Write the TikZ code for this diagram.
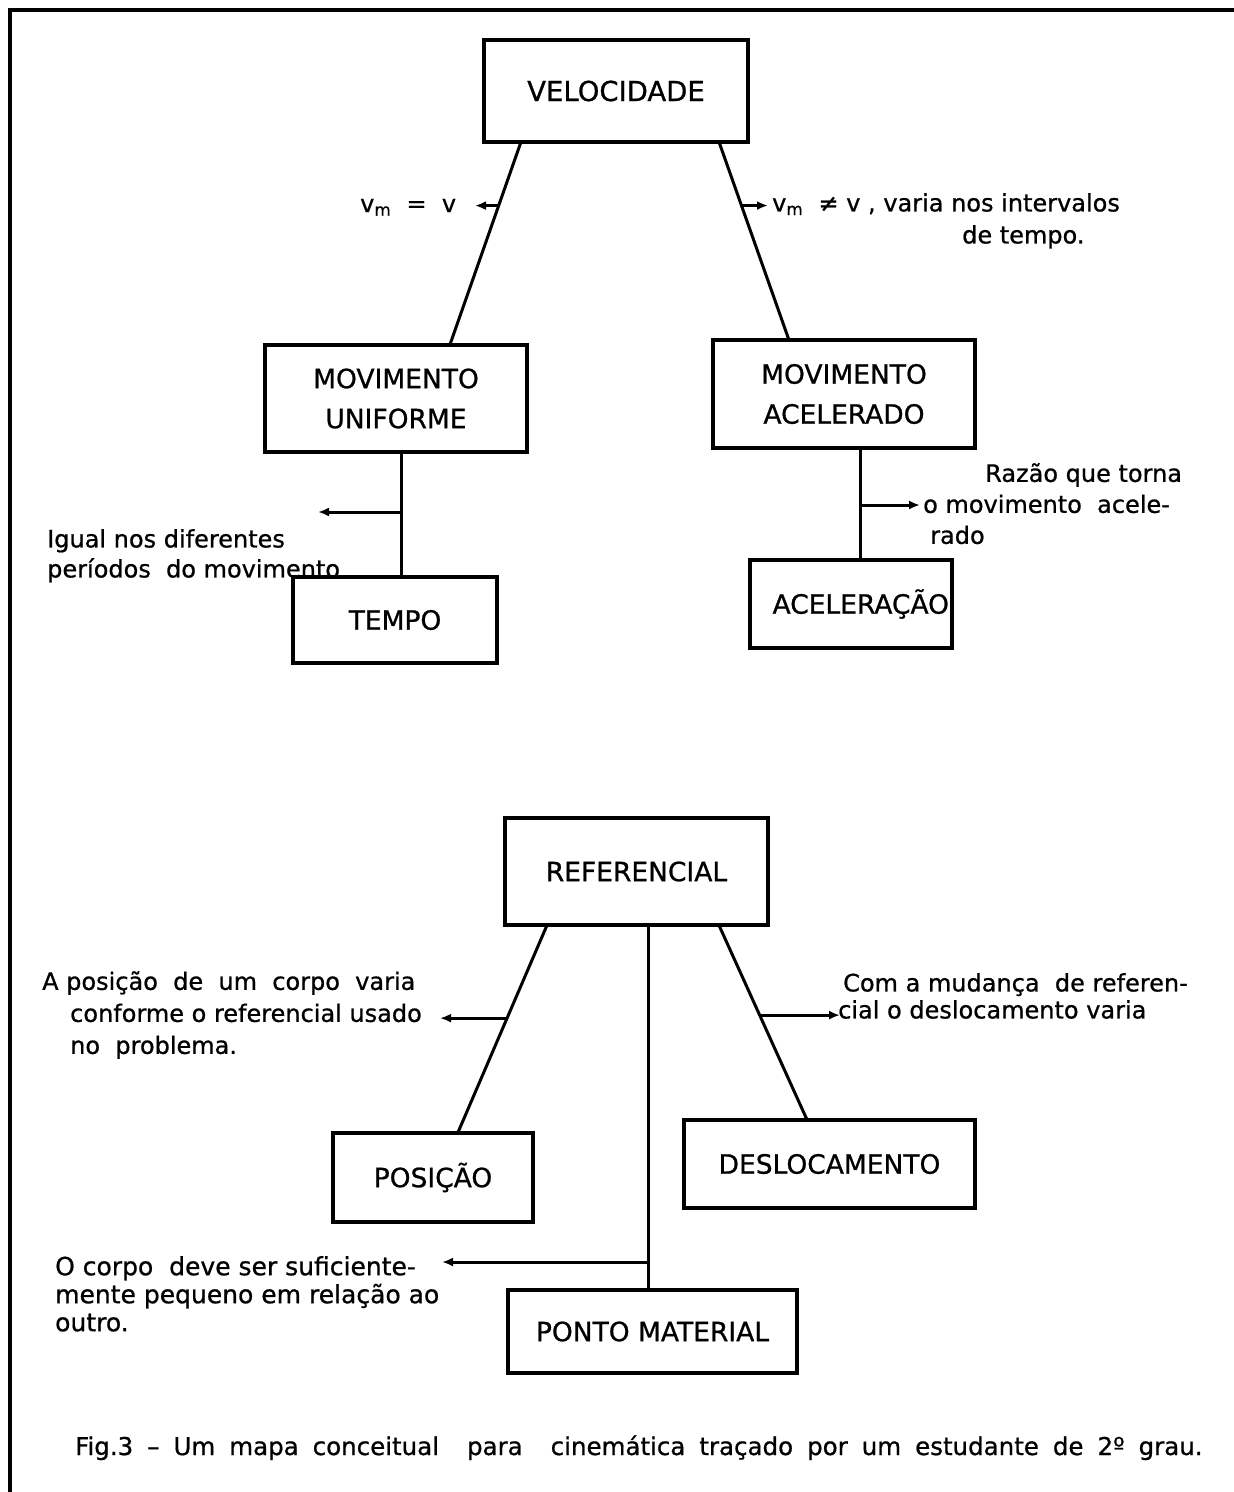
\documentclass[tikz,border=0pt]{standalone}
\usepackage{fontspec}
\setmainfont{DejaVu Sans}[FakeBold=0.8]
\usetikzlibrary{arrows.meta,calc}
\begin{document}
\begin{tikzpicture}[x=1pt,y=-1pt,
  cbox/.style={draw, line width=3.2pt, inner sep=0pt, align=center,
    font=\fontsize{26.5}{40}\selectfont},
  link/.style={line width=3pt},
  lbl/.style={line width=3pt, -{Latex[length=11pt,width=9pt]}},
  txt/.style={inner sep=0pt, align=left, anchor=north west,
    font=\fontsize{24}{30}\selectfont}]
\useasboundingbox (0,0) rectangle (1234,1492);
\draw[line width=3.5pt] (10,1492) -- (10,10) -- (1234,10);

% boxes
\node[cbox, minimum width=264, minimum height=102, font=\fontsize{27.5}{40}\selectfont] (vel) at (616,91) {VELOCIDADE};
\node[cbox, minimum width=262, minimum height=107] (mu) at (396,398.5) {MOVIMENTO\\UNIFORME};
\node[cbox, minimum width=262, minimum height=108] (ma) at (844,394) {MOVIMENTO\\ACELERADO};
\node[cbox, minimum width=204, minimum height=86] (tempo) at (395,620) {TEMPO};
\node[cbox, minimum width=202, minimum height=88, text width=196, align=right] (acel) at (851,604) {ACELERAÇÃO};
\node[cbox, minimum width=263, minimum height=107] (ref) at (636.5,871.5) {REFERENCIAL};
\node[cbox, minimum width=200, minimum height=89] (pos) at (433,1177.5) {POSIÇÃO};
\node[cbox, minimum width=291, minimum height=88] (desl) at (829.5,1164) {DESLOCAMENTO};
\node[cbox, minimum width=289, minimum height=83] (pm) at (652.5,1331.5) {PONTO MATERIAL};

% connectors
\draw[link] ([xshift=38]vel.south west) -- ([xshift=187]mu.north west) coordinate[pos=0.3103] (p1);
\draw[link] ([xshift=-30]vel.south east) -- ([xshift=77]ma.north west) coordinate[pos=0.318] (p2);
\draw[link] ([xshift=138]mu.south west) coordinate (m1) -- (m1 |- tempo.north);
\draw[link] ([xshift=149]ma.south west) coordinate (m2) -- (m2 |- acel.north);
\draw[link] ([xshift=43]ref.south west) -- ([xshift=127]pos.north west) coordinate[pos=0.447] (p3);
\draw[link] ([xshift=145]ref.south west) coordinate (m3) -- (m3 |- pm.north);
\draw[link] ([xshift=-50]ref.south east) -- ([xshift=124]desl.north west) coordinate[pos=0.4615] (p4);

% arrow ends
\coordinate (e1) at (475,205);
\coordinate (e2) at (768,205);
\coordinate (e3) at (318,512);
\coordinate (e4) at (920,505);
\coordinate (e5) at (440,1018);
\coordinate (e6) at (442,1262);
\coordinate (e7) at (840,1015);

\draw[lbl] (p1) -- (p1 -| e1);
\draw[lbl] (p2) -- (p2 -| e2);
\draw[lbl] (e3 -| m1) -- (e3);
\draw[lbl] (e4 -| m2) -- (e4);
\draw[lbl] (p3) -- (p3 -| e5);
\draw[lbl] (e6 -| m3) -- (e6);
\draw[lbl] (p4) -- (p4 -| e7);

% labels
\node[txt, anchor=base west] (t1) at (360,212) {v\textsubscript{m}\ \ =\ \ v};
\node[txt, font=\fontsize{24}{32}\selectfont] (t2) at (772,193) {v\textsubscript{m}\ \ ≠ v , varia nos intervalos\\\hspace*{190pt}de tempo.};
\node[txt] (t3) at (47,529) {Igual nos diferentes\\períodos\ \ do movimento};
\node[txt, font=\fontsize{24}{31}\selectfont] (t4) at (923,463) {\hspace*{62pt}Razão que torna\\o movimento\ \ acele-\\\hspace*{7pt}rado};
\node[txt, font=\fontsize{24}{32}\selectfont] (t5) at (42,971) {A\ posição\ \ de\ \ um\ \ corpo\ \ varia\\\hspace*{28pt}conforme o referencial usado\\\hspace*{28pt}no\ \ problema.};
\node[txt, font=\fontsize{24}{27}\selectfont] (t6) at (838,973) {\hspace*{5pt}Com a mudança\ \ de referen-\\cial o deslocamento varia};
\node[txt, font=\fontsize{25}{28}\selectfont] (t7) at (55,1256) {O corpo\ \ deve ser suficiente-\\mente pequeno em relação ao\\outro.};
\node[txt, anchor=base west, font=\fontsize{24.5}{30}\selectfont] (cap) at (75,1455) {\spaceskip=14pt plus 2pt\relax Fig.3 – Um mapa conceitual\ \ para\ \ cinemática traçado por um estudante de 2º grau.};
\end{tikzpicture}
\end{document}
